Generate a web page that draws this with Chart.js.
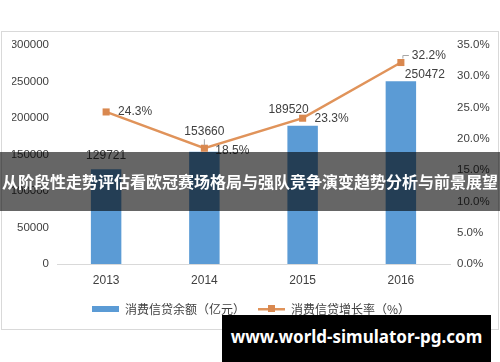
<!DOCTYPE html>
<html>
<head>
<meta charset="utf-8">
<script src="https://cdn.jsdelivr.net/npm/chart.js@4"></script>
<style>
  html, body { margin: 0; padding: 0; background: #fff; }
  #wrap { position: relative; width: 500px; height: 362px; overflow: hidden; }
  #frame { position: absolute; left: 1px; top: 31px; width: 496px; height: 297px; border: 1px solid #d9d9d9; }
  #c { position: absolute; left: 0; top: 0; }
  #banner {
    position: absolute; left: 0; top: 152px; width: 500px; height: 59px;
    background: rgba(0, 0, 0, 0.6); color: #fff; text-align: center; white-space: nowrap;
    font: bold 16px "Noto Sans CJK SC"; line-height: 59px;
  }
  #mark {
    position: absolute; left: 222px; top: 315px; width: 269px; height: 47px;
    background: #000; color: #fff; text-align: center; white-space: nowrap;
    font: bold 17px "Noto Sans"; line-height: 44px;
  }
</style>
</head>
<body>
<div id="wrap">
  <div id="frame"></div>
  <canvas id="c" width="500" height="362"></canvas>
  <div id="banner">从阶段性走势评估看欧冠赛场格局与强队竞争演变趋势分析与前景展望</div>
  <div id="mark">www.world-simulator-pg.com</div>
</div>
<script>
// chart data
const years = ['2013', '2014', '2015', '2016'];
const balance = [129721, 153660, 189520, 250472];
const growth = [24.3, 18.5, 23.3, 32.2];
const balanceName = '消费信贷余额（亿元）';
const growthName = '消费信贷增长率（%）';

const blue = '#5B9BD5';
const orange = '#E0935A';
const textColor = '#404040';
const cjkFont = '"Noto Sans CJK SC", "Noto Sans", sans-serif';
const numFont = '"Liberation Sans", Arial, sans-serif';

// legend icons
const barIcon = document.createElement('canvas');
barIcon.width = 27; barIcon.height = 6;
let g = barIcon.getContext('2d');
g.fillStyle = blue;
g.fillRect(0, 0, 27, 6);

const lineIcon = document.createElement('canvas');
lineIcon.width = 27; lineIcon.height = 8;
g = lineIcon.getContext('2d');
g.fillStyle = orange;
g.fillRect(0, 3, 27, 2.5);
g.fillStyle = '#D9884F';
g.fillRect(10, 0, 7, 7);

// label offsets relative to the mark
const labelOffsets = [
  [[0, -14], [0, -20], [-14, -16], [24, -6]],
  [[29, 0], [28, 2], [29, 0], [28, -7]]
];

const labelPlugin = {
  id: 'valueLabels',
  afterDatasetsDraw(chart) {
    const ctx = chart.ctx;
    ctx.save();
    ctx.font = '12px ' + numFont;
    ctx.fillStyle = textColor;
    ctx.textAlign = 'center';
    ctx.textBaseline = 'middle';
    chart.data.datasets.forEach((ds, di) => {
      const meta = chart.getDatasetMeta(di);
      meta.data.forEach((el, i) => {
        const [dx, dy] = labelOffsets[di][i];
        const txt = di === 0 ? String(ds.data[i]) : ds.data[i].toFixed(1) + '%';
        ctx.fillText(txt, el.x + dx, el.y + dy);
      });
    });
    // leader lines
    ctx.strokeStyle = '#a6a6a6';
    ctx.lineWidth = 1;
    const p = chart.getDatasetMeta(1).data[3];
    ctx.beginPath();
    ctx.moveTo(p.x + 2, p.y - 4);
    ctx.lineTo(p.x + 2, p.y - 7);
    ctx.lineTo(p.x + 8, p.y - 7);
    ctx.stroke();
    const q = chart.getDatasetMeta(1).data[1];
    ctx.beginPath();
    ctx.moveTo(q.x, q.y - 9);
    ctx.lineTo(q.x, q.y - 3);
    ctx.stroke();
    ctx.restore();
  }
};

new Chart(document.getElementById('c'), {
  data: {
    labels: years,
    datasets: [
      {
        type: 'bar',
        label: balanceName,
        data: balance,
        backgroundColor: blue,
        yAxisID: 'y',
        order: 1,
        categoryPercentage: 1,
        barPercentage: 0.31
      },
      {
        type: 'line',
        label: growthName,
        data: growth,
        borderColor: orange,
        borderWidth: 2.5,
        pointStyle: 'rect',
        pointRadius: 5,
        pointBackgroundColor: '#D9884F',
        pointBorderColor: '#D9884F',
        pointBorderWidth: 0,
        tension: 0,
        yAxisID: 'y1',
        order: 0
      }
    ]
  },
  options: {
    responsive: false,
    animation: false,
    layout: { padding: { left: 12, right: 10, top: 45, bottom: 37 } },
    plugins: {
      tooltip: { enabled: false },
      legend: {
        position: 'bottom',
        labels: {
          usePointStyle: true,
          pointStyleWidth: 27,
          padding: 13,
          color: textColor,
          font: { size: 12, family: cjkFont },
          generateLabels: () => [
            { text: balanceName, pointStyle: barIcon, datasetIndex: 0, fontColor: textColor, lineWidth: 0 },
            { text: growthName, pointStyle: lineIcon, datasetIndex: 1, fontColor: textColor, lineWidth: 0 }
          ]
        }
      }
    },
    scales: {
      x: {
        grid: { display: false, drawTicks: false },
        border: { color: '#d9d9d9', width: 1 },
        ticks: { color: textColor, font: { size: 12, family: numFont }, padding: 9 },
        afterFit: s => { s.height = 26; }
      },
      y: {
        position: 'left',
        min: 0, max: 300000,
        grid: { display: false, drawTicks: false },
        border: { display: false },
        ticks: { stepSize: 50000, padding: 8, color: textColor, font: { size: 11.5, family: numFont }, callback: v => String(v) },
        afterFit: s => { s.width = 45; }
      },
      y1: {
        position: 'right',
        min: 0, max: 35,
        grid: { display: false, drawTicks: false },
        border: { display: false },
        ticks: { stepSize: 5, padding: 7, color: textColor, font: { size: 11.5, family: numFont }, callback: v => v.toFixed(1) + '%' },
        afterFit: s => { s.width = 40; }
      }
    }
  },
  plugins: [labelPlugin]
});
</script>
</body>
</html>
